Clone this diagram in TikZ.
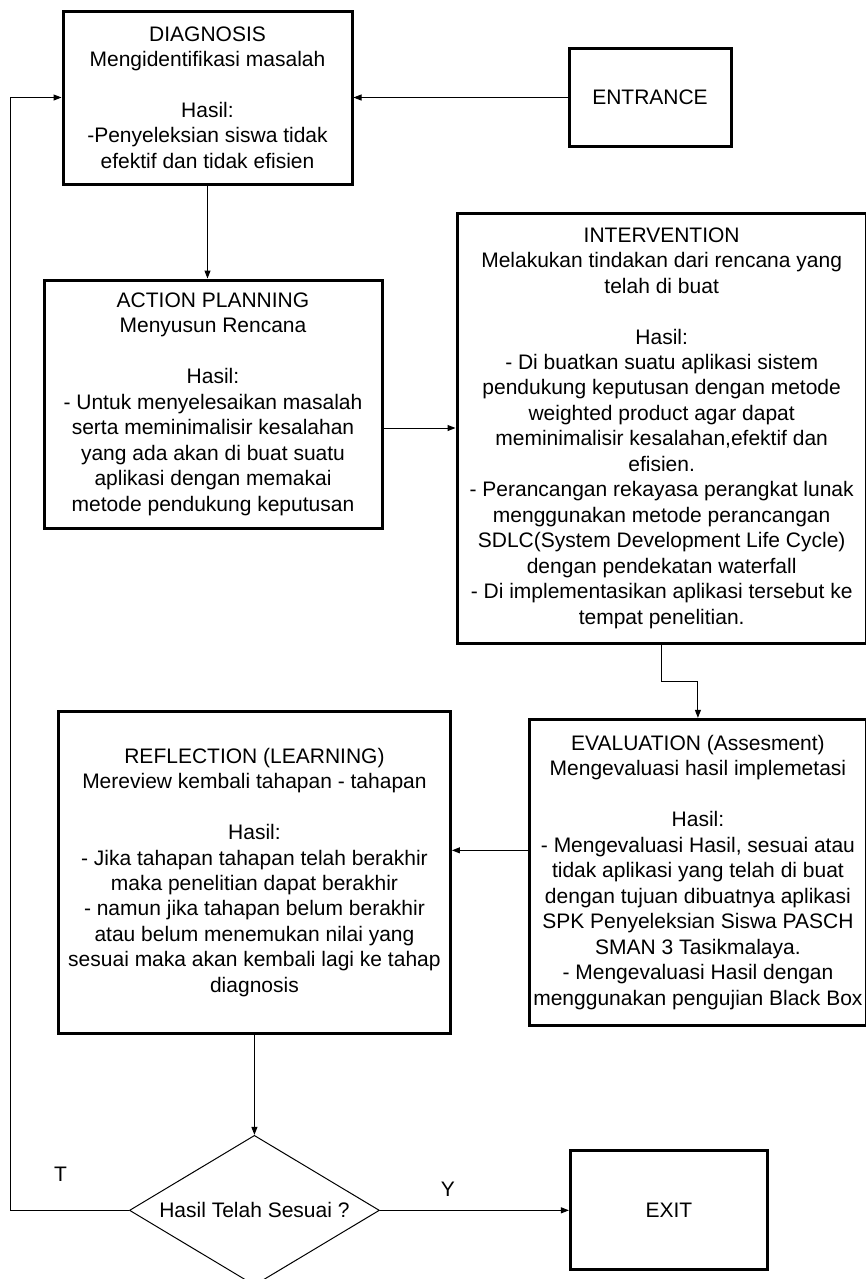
\documentclass[tikz,border=0pt]{standalone}
\usepackage{fontspec}
\setmainfont{Liberation Sans}
\usetikzlibrary{arrows.meta,shapes.geometric,positioning}
\tikzset{arrows={-Triangle[length=6pt,width=4.5pt]}}
\newcommand\boxfont{\fontsize{15.75pt}{19.1pt}\selectfont}
\newcommand\skipline{\\[19.1pt]}
\tikzset{
  phase/.style={draw, line width=2.25pt, align=center, inner sep=0pt},
  decision/.style={draw, diamond, aspect=1.667, inner sep=0pt},
  tag/.style={inner sep=0pt}
}

\begin{document}
\begin{tikzpicture}[x=0.75pt, y=-0.75pt, line width=0.75pt, font=\boxfont]
    \useasboundingbox (0,0) rectangle (865,1279);
    \node[phase, minimum width=216.75pt, minimum height=129.75pt] (diag) at (207.5,97.5)
      {DIAGNOSIS\\Mengidentifikasi masalah\skipline Hasil:\\-Penyeleksian siswa tidak\\efektif dan tidak efisien};
    \node[phase, minimum width=121.5pt, minimum height=73.5pt] (entr) [right = 160.5pt of diag] {ENTRANCE};
    \node[phase, minimum width=253.5pt, minimum height=186pt] (action) [below = 69.75pt of diag, xshift=4.125pt]
      {ACTION PLANNING\\Menyusun Rencana\skipline Hasil:\\- Untuk menyelesaikan masalah\\serta meminimalisir kesalahan\\yang ada akan di buat suatu\\aplikasi dengan memakai\\metode pendukung keputusan};
    \node[phase, minimum width=307pt, minimum height=322.5pt] (interv) [right = 54pt of action, yshift=-18pt]
      {INTERVENTION\\Melakukan tindakan dari rencana yang\\telah di buat\skipline Hasil:\\- Di buatkan suatu aplikasi sistem\\pendukung keputusan dengan metode\\weighted product agar dapat\\meminimalisir kesalahan,efektif dan\\efisien.\\- Perancangan rekayasa perangkat lunak\\menggunakan metode perancangan\\SDLC(System Development Life Cycle)\\dengan pendekatan waterfall\\- Di implementasikan aplikasi tersebut ke\\tempat penelitian.};
    \node[phase, minimum width=252.75pt, minimum height=229.5pt] (eval) [below = 55pt of interv, xshift=27.2pt]
      {EVALUATION (Assesment)\\Mengevaluasi hasil implemetasi\skipline Hasil:\\- Mengevaluasi Hasil, sesuai atau\\tidak aplikasi yang telah di buat\\dengan tujuan dibuatnya aplikasi\\SPK Penyeleksian Siswa PASCH\\SMAN 3 Tasikmalaya.\\- Mengevaluasi Hasil dengan\\menggunakan pengujian Black Box};
    \node[phase, minimum width=294pt, minimum height=241.5pt] (refl) [left = 57pt of eval]
      {REFLECTION (LEARNING)\\Mereview kembali tahapan - tahapan\skipline Hasil:\\- Jika tahapan tahapan telah berakhir\\maka penelitian dapat berakhir\\- namun jika tahapan belum berakhir\\atau belum menemukan nilai yang\\sesuai maka akan kembali lagi ke tahap\\diagnosis};
    \node[decision, minimum width=187.5pt, minimum height=112.5pt] (dec) [below = 75pt of refl] {Hasil Telah Sesuai ?};
    \node[phase, minimum width=147.75pt, minimum height=89.25pt] (exit) [right = 141.75pt of dec] {EXIT};

    \draw (entr.west) -- (diag.east);
    \draw (diag.south) -- (diag.south |- action.north);
    \draw (action.east |- interv.west) -- (interv.west);
    \draw (interv.south) -- ++(0,37) -| (eval.north);
    \coordinate (evalout) at ([yshift=16.5pt]eval.west);
    \draw (evalout) -- (evalout -| refl.east);
    \draw (refl.south) -- (dec.north);
    \draw (dec.east) -- node[tag, above=10pt, pos=0.36] (ylabel) {Y} (exit.west);
    \path (dec.west) ++(-118,0) coordinate (back);
    \draw (dec.west) -- node[tag, above=21.5pt, pos=0.58] (tlabel) {T} (back) |- (diag.west);
\end{tikzpicture}
\end{document}
